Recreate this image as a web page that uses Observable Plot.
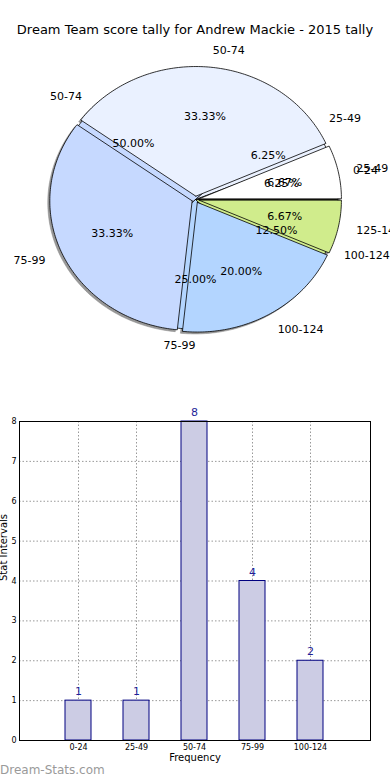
<!DOCTYPE html>
<html><head><meta charset="utf-8">
<script src="https://cdn.jsdelivr.net/npm/d3@7"></script>
<script src="https://cdn.jsdelivr.net/npm/@observablehq/plot@0.6"></script>
<style>
body{margin:0;background:#fff;font-family:"DejaVu Sans",sans-serif;width:390px;height:780px;overflow:hidden;position:relative}
#title{height:40px;box-sizing:border-box;padding-top:22px;text-align:center;font-size:13px;line-height:16px;color:#000;white-space:nowrap}
#caption{position:absolute;left:0;top:763px;font-size:12px;line-height:15px;color:#9a9a9a}
svg{display:block}
</style></head><body>
<div id="title">Dream Team score tally for Andrew Mackie - 2015 tally</div>
<div id="pie"></div>
<div id="bars"></div>
<div id="caption">Dream-Stats.com</div>
<script>
// Pie 1 (underneath): tally of this team
const pieOneCats = ["0-24", "25-49", "50-74", "75-99", "100-124"];
const pieOneCounts = [1, 1, 8, 4, 2];
// Pie 2 (on top)
const pieTwoCats = ["25-49", "50-74", "75-99", "100-124", "125-149"];
const pieTwoCounts = [1, 5, 5, 3, 1];
const sliceColors = ["#ffffff", "#eaf1ff", "#c6d9ff", "#b3d5ff", "#d0ec8c"];

// Bar chart
const barCats = ["0-24", "25-49", "50-74", "75-99", "100-124"];
const barCounts = [1, 1, 8, 4, 2];
const yTicks = [0, 1, 2, 3, 4, 5, 6, 7, 8];

const R = 0.975;
function buildPie(id, cats, counts, explode, shadow) {
  const total = d3.sum(counts);
  const pts = [], labels = [];
  let a0 = 0;
  cats.forEach((c, i) => {
    const a1 = a0 + counts[i] / total * 2 * Math.PI;
    const mid = (a0 + a1) / 2;
    const ox = explode * Math.cos(mid) + shadow, oy = explode * Math.sin(mid) + shadow;
    const key = id + "-" + i;
    const fill = sliceColors[i % sliceColors.length];
    pts.push({key, x: ox, y: oy, fill});
    const n = Math.max(2, Math.ceil((a1 - a0) / (Math.PI / 180)));
    for (let k = 0; k <= n; k++) {
      const a = a0 + (a1 - a0) * k / n;
      pts.push({key, x: ox + R * Math.cos(a), y: oy + R * Math.sin(a), fill});
    }
    pts.push({key, x: ox, y: oy, fill});
    labels.push({
      cat: c,
      pct: (counts[i] / total * 100).toFixed(2) + "%",
      lx: ox + 1.1 * Math.cos(mid), ly: oy + 1.1 * Math.sin(mid),
      px: ox + 0.6 * Math.cos(mid), py: oy + 0.6 * Math.sin(mid),
      right: Math.cos(mid) > 0
    });
    a0 = a1;
  });
  return {pts, labels};
}

const e2 = 0.025;
const pieOne = buildPie("a", pieOneCats, pieOneCounts, 0, 0);
const pieTwo = buildPie("b", pieTwoCats, pieTwoCounts, e2, 0);
const shadowTwo = buildPie("s", pieTwoCats, pieTwoCounts, e2, -0.014);
const allLabels = [...pieOne.labels, ...pieTwo.labels];

const pie = Plot.plot({
  width: 390, height: 360,
  margin: 0,
  x: {domain: [-1, 1], range: [49, 341], axis: null},
  y: {domain: [-1, 1], range: [292, 26], axis: null},
  color: {type: "identity"},
  style: {fontFamily: "DejaVu Sans, sans-serif", fontSize: "11px", background: "white"},
  marks: [
    Plot.line(shadowTwo.pts, {x: "x", y: "y", z: "key", fill: "#444", fillOpacity: 0.55, stroke: "#888", strokeWidth: 1, strokeOpacity: 0.5, curve: "linear"}),
    Plot.line(pieOne.pts, {x: "x", y: "y", z: "key", fill: "fill", stroke: "#000", strokeWidth: 0.8, curve: "linear"}),
    Plot.line(pieTwo.pts, {x: "x", y: "y", z: "key", fill: "fill", stroke: "#000", strokeWidth: 0.8, curve: "linear"}),
    Plot.text(allLabels.filter(d => d.right), {x: "lx", y: "ly", text: "cat", textAnchor: "start", fill: "#000"}),
    Plot.text(allLabels.filter(d => !d.right), {x: "lx", y: "ly", text: "cat", textAnchor: "end", fill: "#000"}),
    Plot.text(allLabels, {x: "px", y: "py", text: "pct", textAnchor: "middle", fill: "#000"})
  ]
});
document.getElementById("pie").appendChild(pie);

const barData = barCats.map((c, i) => ({cat: c, count: barCounts[i]}));
const bars = Plot.plot({
  width: 390, height: 365,
  marginTop: 21, marginBottom: 25, marginLeft: 19, marginRight: 20,
  x: {type: "band", domain: barCats, paddingInner: 0.547, paddingOuter: 0.7735, label: null, axis: null},
  y: {domain: [0, 8], label: null, axis: null},
  style: {fontFamily: "DejaVu Sans, sans-serif", fontSize: "8px", background: "white"},
  marks: [
    Plot.gridX({stroke: "#999", strokeOpacity: 1, strokeDasharray: "1.5,2"}),
    Plot.gridY({ticks: yTicks, stroke: "#999", strokeOpacity: 1, strokeDasharray: "1.5,2"}),
    Plot.barY(barData, {x: "cat", y: "count", fill: "#ccccE4", stroke: "#000080", strokeWidth: 1}),
    Plot.text(barData, {x: "cat", y: "count", text: d => String(d.count), dy: -9, fill: "#1f1f99", fontSize: 11}),
    Plot.frame({stroke: "#000", strokeWidth: 1}),
    Plot.axisY({ticks: yTicks, tickSize: 0, tickPadding: 3, fontSize: 8, label: null, tickFormat: d => String(d)}),
    Plot.axisX({tickSize: 0, tickPadding: 4, fontSize: 8, label: null}),
    Plot.text(["Frequency"], {frameAnchor: "bottom", text: d => d, dy: 20, fontSize: 10}),
    Plot.text(["Stat Intervals"], {frameAnchor: "left", text: d => d, dx: -16, rotate: -90, fontSize: 10})
  ]
});
document.getElementById("bars").appendChild(bars);
</script>
</body></html>
